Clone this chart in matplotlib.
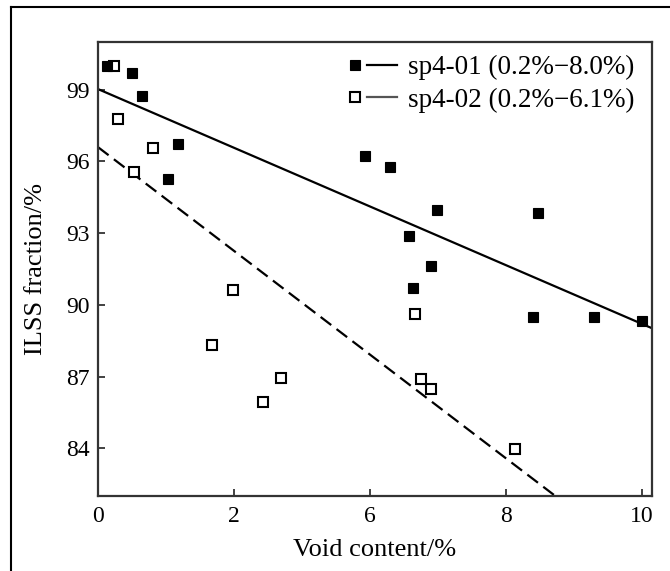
import matplotlib
matplotlib.use("Agg")
import matplotlib.pyplot as plt
import numpy as np
from matplotlib.lines import Line2D
from matplotlib.legend_handler import HandlerBase

# ---------------- data ----------------
# sp4-01 (filled squares)
sp401_x = [0.13, 0.50, 0.65, 1.18, 1.03, 3.93, 4.29, 4.99, 6.47, 4.57, 4.90, 4.63, 6.40, 7.29, 8.01]
sp401_y = [100.0, 99.71, 98.75, 96.75, 95.25, 96.21, 95.75, 93.96, 93.83, 92.88, 91.63, 90.71, 89.50, 89.50, 89.33]
# sp4-02 (open squares)
sp402_x = [0.24, 0.30, 0.81, 0.53, 1.99, 1.68, 2.69, 2.43, 4.67, 4.75, 4.90, 6.13]
sp402_y = [100.0, 97.78, 96.57, 95.55, 90.63, 88.30, 86.92, 85.93, 89.61, 86.88, 86.49, 83.96]
# linear fits: intercept, slope
fit401 = (99.03, -1.228)
fit402 = (96.60, -2.17)

series_labels = ["sp4-01 (0.2%\u22128.0%)", "sp4-02 (0.2%\u22126.1%)"]
xtick_pos = [0, 2, 4, 6, 8]
xtick_labels = ["0", "2", "6", "8", "10"]
ytick_vals = [84, 87, 90, 93, 96, 99]

plt.rcParams['font.family'] = ['Liberation Serif', 'DejaVu Serif']

W, H = 670, 571
fig = plt.figure(figsize=(W / 100, H / 100), dpi=100)
ax = fig.add_axes([98 / W, 1 - 496 / H, (652 - 98) / W, (496 - 42) / H])

xlim = (0, 8.15)
ax.set_xlim(*xlim)
ax.set_ylim(82, 101)

xx = np.linspace(xlim[0], xlim[1], 200)
l1, = ax.plot(xx, fit401[0] + fit401[1] * xx, color='black', lw=1.6, solid_capstyle='butt')
l2, = ax.plot(xx, fit402[0] + fit402[1] * xx, color='black', lw=1.6, dashes=(6, 3))

mk1 = dict(marker='s', markersize=7, markerfacecolor='black', markeredgecolor='black', markeredgewidth=0.8)
mk2 = dict(marker='s', markersize=6.5, markerfacecolor='white', markeredgecolor='black', markeredgewidth=1.5)
ax.plot(sp402_x, sp402_y, linestyle='none', zorder=3, **mk2)
ax.plot(sp401_x, sp401_y, linestyle='none', zorder=4, **mk1)

ax.set_xticks(xtick_pos)
ax.set_xticklabels(xtick_labels)
ax.set_yticks(ytick_vals)
ax.tick_params(direction='in', length=5, width=1.3, color='#333333', labelsize=17, top=False, right=False)
ax.tick_params(axis='x', pad=7)
ax.tick_params(axis='y', pad=6)
for s in ax.spines.values():
    s.set_linewidth(1.6)
    s.set_color('#333333')

ax.set_xlabel("Void content/%", fontsize=19, labelpad=9)
ax.set_ylabel("ILSS fraction/%", fontsize=19, labelpad=14)


class MarkerThenLine(HandlerBase):
    def __init__(self, marker_kw, line_kw):
        super().__init__()
        self.marker_kw = marker_kw
        self.line_kw = line_kw

    def create_artists(self, legend, orig_handle, xdescent, ydescent, width, height, fontsize, trans):
        y = height / 2 - ydescent
        x0 = -xdescent
        m = Line2D([x0 + 0.11 * width], [y], linestyle='none', **self.marker_kw)
        ln = Line2D([x0 + 0.36 * width, x0 + width], [y, y], **self.line_kw)
        m.set_transform(trans)
        ln.set_transform(trans)
        return [m, ln]


leg = ax.legend([l1, l2], series_labels,
                handler_map={l1: MarkerThenLine(mk1, dict(color='black', lw=1.6)),
                             l2: MarkerThenLine(mk2, dict(color='#555555', lw=1.6))},
                loc='upper left', bbox_to_anchor=(350 / W, 1 - 55 / H),
                bbox_transform=fig.transFigure, frameon=False, fontsize=19.5,
                handlelength=1.74, handletextpad=0.41, labelspacing=0.28,
                borderpad=0, borderaxespad=0)

# outer frame (top and left edges visible in the reference)
fig.add_artist(Line2D([11 / W, 1], [1 - 7 / H, 1 - 7 / H], transform=fig.transFigure, color='black', lw=1.5))
fig.add_artist(Line2D([11 / W, 11 / W], [0, 1 - 7 / H], transform=fig.transFigure, color='black', lw=1.5))

fig.savefig("out.png", dpi=100)
